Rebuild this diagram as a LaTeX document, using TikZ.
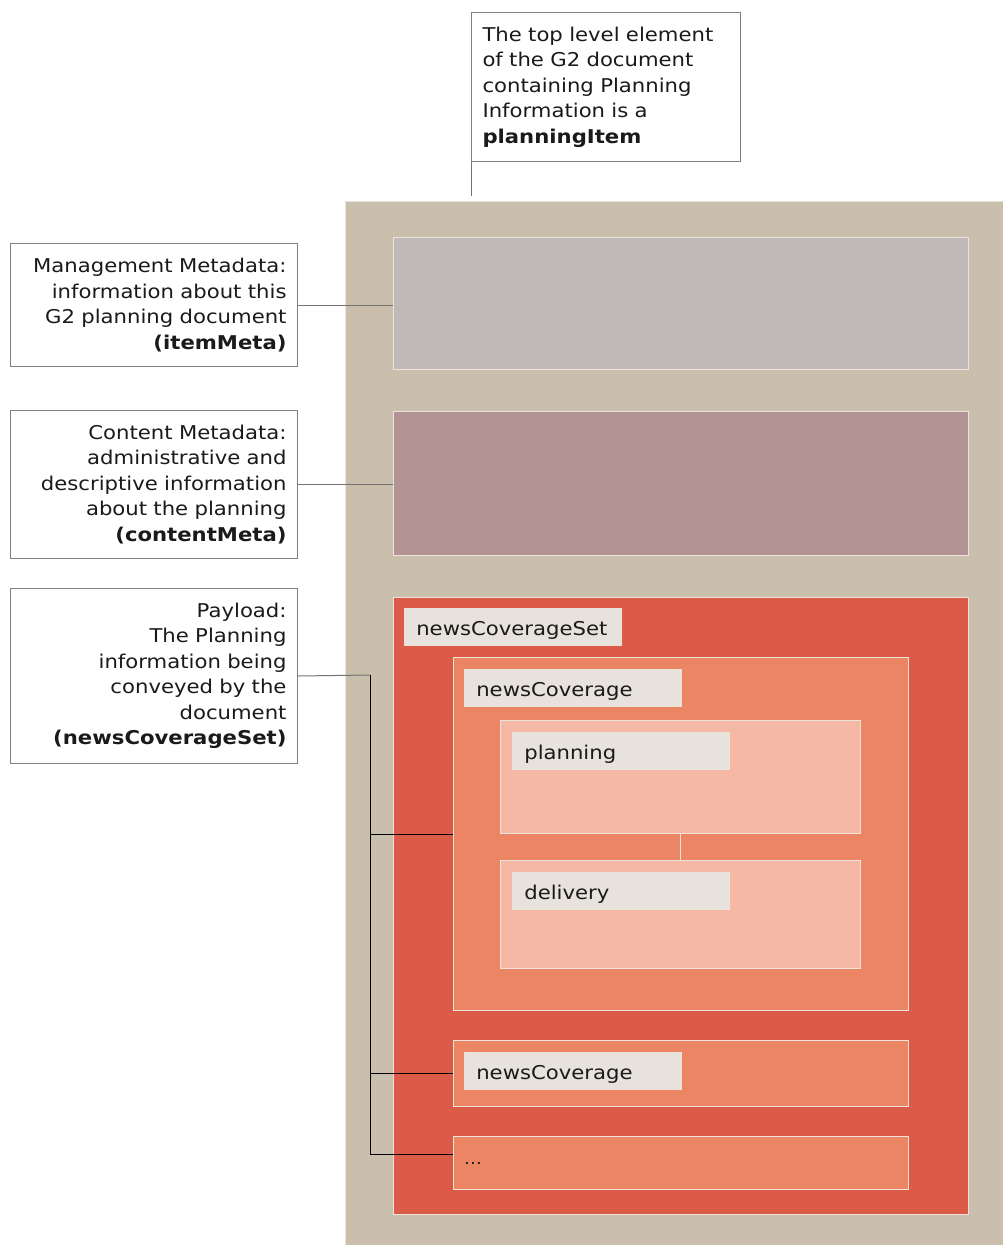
\documentclass[tikz,border=0pt]{standalone}
\usepackage{fontspec}
\setmainfont{DejaVu Sans}[FakeStretch=1.115]
\begin{document}
\definecolor{tan}{HTML}{C9BFAC}
\definecolor{imfill}{HTML}{C0B9B9}
\definecolor{cmfill}{HTML}{B39494}
\definecolor{setfill}{HTML}{DC5B48}
\definecolor{covfill}{HTML}{EC8563}
\definecolor{subfill}{HTML}{F5B8A5}
\definecolor{lblfill}{HTML}{E7E2DB}
\definecolor{rim}{HTML}{EDE3DA}
\definecolor{ink}{HTML}{1A1A1A}
\begin{tikzpicture}[x=1pt,y=-1pt,
  txt/.style={font=\fontsize{19}{25.5}\selectfont, text=ink},
  note/.style={txt, draw=black!50, line width=1pt, fill=white, inner xsep=11pt, inner ysep=0pt, anchor=north west},
  leftnote/.style={note, minimum width=287pt, text width=265pt, align=right},
  area/.style={draw=rim, line width=1pt, anchor=north west, inner sep=0pt},
  tag/.style={txt, fill=lblfill, draw=rim, line width=0.6pt, anchor=north west, minimum width=217pt, minimum height=37pt, text width=193pt, text height=18pt, text depth=0pt, inner xsep=12pt, inner ysep=0pt, align=left},
  lead/.style={draw=black!55, line width=1pt},
  bus/.style={draw=black, line width=1pt}]
\useasboundingbox (0,0) rectangle (1003,1245);

% container for the whole planning item
\node[area, fill=tan, minimum width=680pt, minimum height=1060pt] (item) at (345,201) {};

% metadata blocks
\node[area, fill=imfill, minimum width=575pt, minimum height=132pt] (imeta) at (393,237) {};
\node[area, fill=cmfill, minimum width=575pt, minimum height=144pt] (cmeta) at (393,411) {};

% payload: newsCoverageSet and its children
\node[area, fill=setfill, minimum width=575pt, minimum height=617pt] (ncs) at (393,597) {};
\node[tag] (ncstag) at (404,608) {newsCoverageSet};

\node[area, fill=covfill, minimum width=455pt, minimum height=353pt] (nc1) at (453,657) {};
\node[tag] (nc1tag) at (464,669) {newsCoverage};

\node[area, fill=subfill, minimum width=360pt, minimum height=113pt] (plan) at (500,720) {};
\node[tag] (plantag) at (512,732) {planning};

\node[area, fill=subfill, minimum width=360pt, minimum height=108pt] (deliv) at (500,860) {};
\node[tag] (delivtag) at (512,872) {delivery};

\draw[draw=rim, line width=1pt] (plan.south) -- (deliv.north);

\node[area, fill=covfill, minimum width=455pt, minimum height=66pt] (nc2) at (453,1040) {};
\node[tag] (nc2tag) at (464,1052) {newsCoverage};

\node[area, fill=covfill, minimum width=455pt, minimum height=53pt] (more) at (453,1136) {};
\node[txt, anchor=base west, inner sep=0pt, font=\fontsize{16}{20}\selectfont] (moretxt) at (464,1164) {\ldots};

% explanatory notes
\node[note, minimum width=269pt, minimum height=149pt, text width=247pt, align=left] (topnote) at (471,12)
  {The top level element\\ of the G2 document\\ containing Planning\\ Information is a\\ \textbf{planningItem}};
\coordinate (topend) at (471,196);
\draw[lead] (topnote.south west) -- (topend);

\node[leftnote, minimum height=123pt] (imnote) at (10,243)
  {Management Metadata:\\ information about this\\ G2 planning document\\ \textbf{(itemMeta)}};
\draw[lead] (imnote.east) -- (imnote.east -| imeta.west);

\node[leftnote, minimum height=148pt] (cmnote) at (10,410)
  {Content Metadata:\\ administrative and\\ descriptive information\\ about the planning\\ \textbf{(contentMeta)}};
\draw[lead] (cmnote.east) -- (cmnote.east -| cmeta.west);

\node[leftnote, minimum height=175pt] (plnote) at (10,588)
  {Payload:\\ The Planning\\ information being\\ conveyed by the\\ document\\ \textbf{(newsCoverageSet)}};
\coordinate (bustop) at (370,675);
\coordinate (busbot) at (370,1154);
\coordinate (moreend) at (more.west |- busbot);
\draw[lead] (plnote.east) -- (bustop);
\draw[bus] (bustop) -- (busbot);
\draw[bus] (nc1.west -| bustop) -- (nc1.west);
\draw[bus] (nc2.west -| bustop) -- (nc2.west);
\draw[bus] (busbot) -- (moreend);
\end{tikzpicture}
\end{document}
